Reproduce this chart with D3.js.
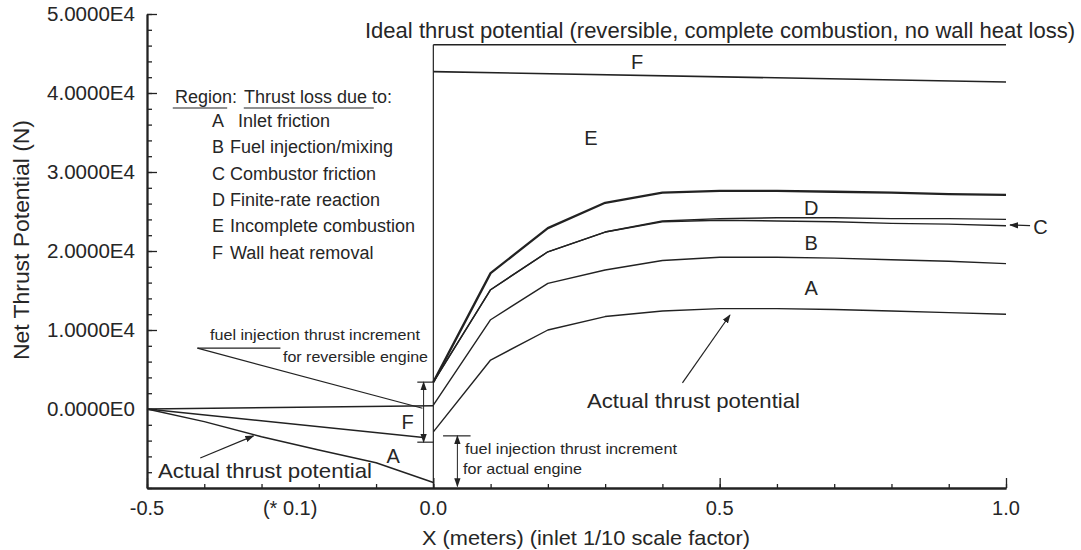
<!DOCTYPE html>
<html><head><meta charset="utf-8">
<script src="https://cdn.jsdelivr.net/npm/d3@7"></script>
<style>
body{margin:0;background:#fff}
text{font-family:"Liberation Sans",Arial,Helvetica,sans-serif;fill:#262626}
</style>
</head><body>
<svg id="c" width="1081" height="550"></svg>
<script>
// ---- tick labels ----
const yTickValues = [0, 10000, 20000, 30000, 40000, 50000];
const yTickLabels = ["0.0000E0","1.0000E4","2.0000E4","3.0000E4","4.0000E4","5.0000E4"];
const xTickValues = [-0.5, -0.25, 0, 0.5, 1.0];
const xTickLabels = ["-0.5","(* 0.1)","0.0","0.5","1.0"];

// ---- inlet section (x scaled *0.1) ----
const inletIdealX = [-0.5, 0.0];
const inletIdealY = [0, 400];
const inletWallX = [-0.5, -0.017];
const inletWallY = [0, -3600];
const inletActualX = [-0.5, -0.4, -0.3, -0.2, -0.1, 0.0];
const inletActualY = [0, -1600, -3500, -5200, -6800, -9300];

// ---- combustor section ----
const idealX = [0, 1.0];
const idealY = [46100, 46100];
const wallX = [0, 1.0];
const wallY = [42700, 41400];
const combX = [0, 0.1, 0.2, 0.3, 0.4, 0.5, 0.6, 0.7, 0.8, 0.9, 1.0];
const completeCombY = [3400, 17200, 22900, 26100, 27400, 27600, 27600, 27500, 27400, 27200, 27100];
const finiteRateY   = [3400, 15100, 19900, 22400, 23800, 24100, 24200, 24200, 24100, 24100, 24000];
const combFrictionY = [3400, 15100, 19900, 22400, 23700, 23900, 23800, 23700, 23500, 23400, 23200];
const fuelMixY      = [500, 11300, 15900, 17600, 18800, 19200, 19200, 19100, 18900, 18700, 18400];
const actualY       = [-2900, 6200, 10000, 11700, 12400, 12700, 12700, 12600, 12400, 12200, 12000];

// ---- legend ----
const regionCodes = ["A","B","C","D","E","F"];
const regionCauses = ["Inlet friction","Fuel injection/mixing","Combustor friction","Finite-rate reaction","Incomplete combustion","Wall heat removal"];

const svg = d3.select("#c");
const INK = "#222";
const x = d3.scaleLinear().domain([-0.5, 1.0]).range([147, 1006]);
const y = d3.scaleLinear().domain([-10000, 50000]).range([488, 14]);

const defs = svg.append("defs");
defs.append("marker").attr("id","ah").attr("viewBox","0 0 10 10").attr("refX",9).attr("refY",5)
  .attr("markerWidth",9).attr("markerHeight",9).attr("markerUnits","userSpaceOnUse")
  .attr("orient","auto-start-reverse")
  .append("path").attr("d","M0,1.5 L10,5 L0,8.5 Z").attr("fill",INK);

// axes
const gy = svg.append("g").attr("transform", `translate(${x(-0.5)},0)`);
gy.call(d3.axisRight(y).tickValues(d3.range(-10000, 50001, 2000)).tickSize(5).tickSizeOuter(0).tickFormat(""));
gy.call(g => g.append("g").call(d3.axisRight(y).tickValues(yTickValues).tickSize(10).tickSizeOuter(0).tickFormat("")));
const gx = svg.append("g").attr("transform", `translate(0,${y(-10000)})`);
gx.call(d3.axisTop(x).tickValues(d3.range(-5, 11, 1).map(v => v / 10)).tickSize(4).tickSizeOuter(0).tickFormat(""));
gx.call(g => g.append("g").call(d3.axisTop(x).tickValues([-0.5, 0, 0.5, 1.0]).tickSize(10).tickSizeOuter(0).tickFormat("")));
svg.selectAll(".domain").attr("stroke", INK).attr("stroke-width", 1.8);
svg.selectAll(".tick line").attr("stroke", INK).attr("stroke-width", 1.3);

function txt(px, py, s, size, len, anchor) {
  const t = svg.append("text").attr("x", px).attr("y", py).attr("font-size", size)
    .attr("text-anchor", anchor || "start").text(s);
  if (len) t.attr("textLength", len).attr("lengthAdjust", "spacingAndGlyphs");
  return t;
}

// y tick labels
yTickValues.forEach((v, i) => txt(135, y(v) + 7, yTickLabels[i], 20, 88, "end"));
// x tick labels
xTickValues.forEach((v, i) => txt(x(v), 515, xTickLabels[i], 20, null, "middle"));
// axis titles
txt(586, 545, "X (meters) (inlet 1/10 scale factor)", 21, 328, "middle");
svg.append("text").attr("transform", "translate(29,240) rotate(-90)").attr("font-size", 22)
  .attr("text-anchor", "middle").attr("textLength", 240).attr("lengthAdjust","spacingAndGlyphs")
  .text("Net Thrust Potential (N)");

// lines
const line = d3.line().x(d => x(d[0])).y(d => y(d[1]));
function series(xs, ys, w) {
  svg.append("path").datum(d3.zip(xs, ys)).attr("d", line)
    .attr("fill", "none").attr("stroke", INK).attr("stroke-width", w || 1.4).attr("stroke-linejoin","round");
}
series(inletIdealX, inletIdealY, 1.5);
series(inletWallX, inletWallY, 1.5);
series(inletActualX, inletActualY, 1.5);
series(idealX, idealY, 1.6);
series(wallX, wallY, 1.6);
series(combX, completeCombY, 2.3);
series(combX, finiteRateY, 1.4);
series(combX, combFrictionY, 1.4);
series(combX, fuelMixY, 1.4);
series(combX, actualY, 1.4);

// vertical line at x = 0
svg.append("line").attr("x1", x(0)).attr("x2", x(0)).attr("y1", y(46100)).attr("y2", y(-10000))
  .attr("stroke", INK).attr("stroke-width", 1.2);

function seg(x1, v1, x2, v2, opts) {
  const l = svg.append("line").attr("x1", x(x1)).attr("y1", y(v1)).attr("x2", x(x2)).attr("y2", y(v2))
    .attr("stroke", INK).attr("stroke-width", (opts && opts.w) || 1.2);
  if (opts && opts.end) l.attr("marker-end", "url(#ah)");
  if (opts && opts.start) l.attr("marker-start", "url(#ah)");
  return l;
}
// F bracket (reversible fuel injection increment)
seg(-0.028, 3400, 0.0, 3400);
seg(-0.028, -4200, 0.0, -4200);
seg(-0.017, 3400, -0.017, -4200, {start: true, end: true, w: 1});
// actual engine bracket
seg(0.017, -3400, 0.065, -3400);
seg(0.042, -3400, 0.042, -9800, {start: true, end: true, w: 1});
// reversible leader
seg(-0.412, 7700, -0.267, 7700);
seg(-0.412, 7700, -0.019, 100);
// pointers
seg(-0.407, -6200, -0.314, -3400, {end: true});
seg(0.435, 3300, 0.518, 11900, {end: true});
seg(1.042, 23200, 1.007, 23300, {end: true});

// annotation texts
txt(365, 38, "Ideal thrust potential (reversible, complete combustion, no wall heat loss)", 22, 710);
txt(210, 340, "fuel injection thrust increment", 15, 210);
txt(283, 362, "for reversible engine", 15, 145);
txt(465, 454, "fuel injection thrust increment", 15, 212);
txt(463, 474, "for actual engine", 15, 119);
txt(158, 478, "Actual thrust potential", 21, 214);
txt(587, 408, "Actual thrust potential", 21, 213);

// region letters
const regionMarks = [["F",0.356,43900],["E",0.275,34300],["D",0.66,25400],["C",1.06,23100],["B",0.66,21000],["A",0.66,15300],["F",-0.045,-1700],["A",-0.07,-5900]];
regionMarks.forEach(d => txt(x(d[1]), y(d[2]) + 7, d[0], 20, null, "middle"));

// legend
txt(175, 103, "Region:", 18);
txt(244, 103, "Thrust loss due to:", 18);
seg(-0.455, 38100, -0.36, 38100, {w: 1.2});
seg(-0.331, 38100, -0.104, 38100, {w: 1.2});
regionCodes.forEach((c, i) => {
  const cy = 127 + i * 26.3;
  txt(212, cy, c, 18);
  txt(i === 0 ? 238 : 230, cy, regionCauses[i], 18);
});
</script>
</body></html>
